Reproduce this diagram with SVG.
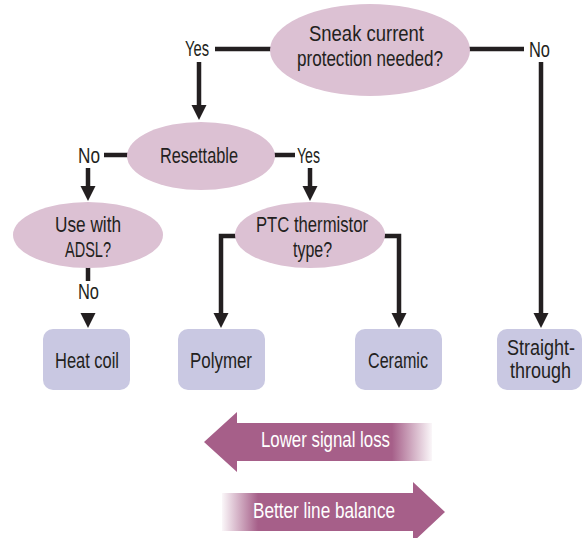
<svg xmlns="http://www.w3.org/2000/svg" width="583" height="538" viewBox="0 0 583 538">
<style>
text{font-family:"Liberation Sans Narrow","Liberation Sans",Arial,sans-serif;font-size:22px;fill:#231f20;text-anchor:middle}
.ell{fill:#dcc1d3}
.box{fill:#c9c8e2}
.ln{stroke:#231f20;stroke-width:4.5;fill:none}
.wt{fill:#ffffff}
</style>
<defs>
<marker id="ah" markerUnits="userSpaceOnUse" markerWidth="16" markerHeight="16" refX="3" refY="7.5" orient="auto">
<path d="M0,0 L15,7.5 L0,15 z" fill="#231f20"/>
</marker>
<linearGradient id="gL" gradientUnits="userSpaceOnUse" x1="432" y1="0" x2="392" y2="0">
<stop offset="0" stop-color="#a65f89" stop-opacity="0.05"/>
<stop offset="1" stop-color="#a65f89" stop-opacity="1"/>
</linearGradient>
<linearGradient id="gR" gradientUnits="userSpaceOnUse" x1="222" y1="0" x2="258" y2="0">
<stop offset="0" stop-color="#a65f89" stop-opacity="0.05"/>
<stop offset="1" stop-color="#a65f89" stop-opacity="1"/>
</linearGradient>
</defs>
<g id="connectors">
<line class="ln" x1="215" y1="49" x2="272" y2="49"/>
<line class="ln" x1="199" y1="62" x2="199" y2="108" marker-end="url(#ah)"/>
<line class="ln" x1="468" y1="49" x2="524" y2="49"/>
<line class="ln" x1="541" y1="62" x2="541" y2="316" marker-end="url(#ah)"/>
<line class="ln" x1="104" y1="155" x2="129" y2="155"/>
<line class="ln" x1="88" y1="168" x2="88" y2="189" marker-end="url(#ah)"/>
<line class="ln" x1="273" y1="155" x2="295" y2="155"/>
<line class="ln" x1="310" y1="168" x2="310" y2="189" marker-end="url(#ah)"/>
<line class="ln" x1="88" y1="266" x2="88" y2="281"/>
<line class="ln" x1="88" y1="313" x2="88" y2="316" marker-end="url(#ah)"/>
<polyline class="ln" points="237,236 221,236 221,316" marker-end="url(#ah)"/>
<polyline class="ln" points="383,236 399,236 399,316" marker-end="url(#ah)"/>
</g>
<g id="n-sneak">
<ellipse class="ell" cx="370" cy="50" rx="100" ry="46"/>
<text x="366.5" y="41" textLength="115" lengthAdjust="spacingAndGlyphs">Sneak current</text>
<text x="370" y="66" textLength="146" lengthAdjust="spacingAndGlyphs">protection needed?</text>
</g>
<g id="lbl-top">
<text x="197" y="56" textLength="24" lengthAdjust="spacingAndGlyphs">Yes</text>
<text x="539.5" y="57" textLength="21" lengthAdjust="spacingAndGlyphs">No</text>
</g>
<g id="n-resettable">
<ellipse class="ell" cx="201" cy="156" rx="74" ry="34"/>
<text x="199" y="163" textLength="78" lengthAdjust="spacingAndGlyphs">Resettable</text>
</g>
<g id="lbl-res">
<text x="89" y="163" textLength="22" lengthAdjust="spacingAndGlyphs">No</text>
<text x="308.5" y="163" textLength="23" lengthAdjust="spacingAndGlyphs">Yes</text>
</g>
<g id="n-adsl">
<ellipse class="ell" cx="88" cy="235" rx="75" ry="33"/>
<text x="88" y="232" textLength="66" lengthAdjust="spacingAndGlyphs">Use with</text>
<text x="88" y="257" textLength="46" lengthAdjust="spacingAndGlyphs">ADSL?</text>
</g>
<g id="lbl-adsl">
<text x="88.5" y="299" textLength="21" lengthAdjust="spacingAndGlyphs">No</text>
</g>
<g id="n-ptc">
<ellipse class="ell" cx="310" cy="235" rx="75" ry="33"/>
<text x="312" y="232" textLength="112" lengthAdjust="spacingAndGlyphs">PTC thermistor</text>
<text x="312.5" y="257" textLength="39" lengthAdjust="spacingAndGlyphs">type?</text>
</g>
<g id="n-heatcoil">
<rect class="box" x="43" y="329" width="87" height="61" rx="10"/>
<text x="87" y="368" textLength="64" lengthAdjust="spacingAndGlyphs">Heat coil</text>
</g>
<g id="n-polymer">
<rect class="box" x="178" y="329" width="87" height="61" rx="10"/>
<text x="221" y="368" textLength="62" lengthAdjust="spacingAndGlyphs">Polymer</text>
</g>
<g id="n-ceramic">
<rect class="box" x="355" y="329" width="87" height="61" rx="10"/>
<text x="398" y="368" textLength="60" lengthAdjust="spacingAndGlyphs">Ceramic</text>
</g>
<g id="n-straight">
<rect class="box" x="497" y="329" width="85" height="61" rx="10"/>
<text transform="translate(541,355) scale(0.8,1)" x="0" y="0" textLength="85" lengthAdjust="spacingAndGlyphs">Straight-</text>
<text transform="translate(540.5,378) scale(0.8,1)" x="0" y="0" textLength="76" lengthAdjust="spacingAndGlyphs">through</text>
</g>
<g id="arrow-loss">
<polygon points="204,442 237,412 237,423 432,423 432,461 237,461 237,472" fill="url(#gL)"/>
<text class="wt" x="325.5" y="447" textLength="129" lengthAdjust="spacingAndGlyphs">Lower signal loss</text>
</g>
<g id="arrow-balance">
<polygon points="222,493 413,493 413,482 445,512 413,542 413,531 222,531" fill="url(#gR)"/>
<text class="wt" x="324" y="518" textLength="142" lengthAdjust="spacingAndGlyphs">Better line balance</text>
</g>
</svg>
